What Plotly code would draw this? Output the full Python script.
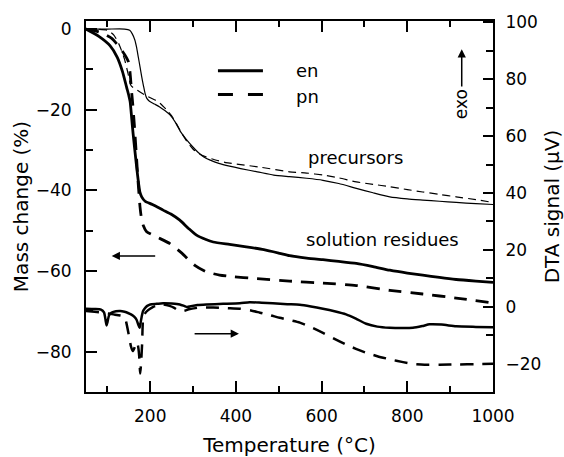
import plotly.graph_objects as go

# ---------------- data ----------------
# Mass change (%), precursor, en  (thin solid)
T_pre_en = [50, 100, 140, 152, 158, 164, 168, 172, 176, 180, 184, 188, 192, 198, 210, 222, 234, 246, 258, 271,
            285, 300, 312, 325, 340, 360, 385, 411, 450, 488, 525, 565, 603, 640, 681, 720, 759, 800, 836, 875,
            914, 960, 1000]
m_pre_en = [0, 0, 0, -0.3, -1.2, -2.7, -4.5, -6.9, -9.3, -11.8, -14, -16, -17.2, -17.9, -18.6, -19.3, -20.2,
            -21.3, -23, -25.5, -27.5, -29.3, -30.6, -31.7, -32.5, -33.3, -34, -34.6, -35.4, -36.2, -36.6, -37,
            -37.5, -38.3, -39.5, -40.6, -41.6, -42.1, -42.4, -42.7, -43, -43.3, -43.5]

# Mass change (%), precursor, pn  (thin dashed)
T_pre_pn = [50, 100, 115, 128, 140, 148, 155, 170, 190, 205, 215, 224, 238, 250, 260, 269, 285, 300, 315, 330,
            350, 376, 411, 460, 525, 565, 603, 640, 681, 720, 759, 800, 836, 875, 914, 960, 1000]
m_pre_pn = [0, -0.3, -1.5, -4, -7.5, -11, -14, -15.2, -16.5, -17.3, -17.8, -18.5, -20, -21.5, -23.2, -25,
            -27.8, -29.8, -31, -31.7, -32.4, -33.1, -33.6, -34.3, -35.4, -35.7, -36.2, -36.9, -37.9, -38.5,
            -39.1, -39.8, -40.4, -41, -41.6, -42.3, -43]

# Mass change (%), solution residue, en  (thick solid)
T_sol_en = [50, 80, 106, 123, 135, 145, 150, 153, 157, 160, 168, 173, 176, 180, 188, 205, 230, 250, 269, 290,
            308, 330, 347, 385, 424, 465, 502, 525, 565, 603, 640, 681, 720, 759, 800, 836, 875, 914, 960, 1000]
m_sol_en = [0, -1.8, -4.1, -7, -10.5, -14.5, -16.5, -18, -22.5, -26, -34, -38.5, -40.5, -41.6, -42.7, -43.5,
            -44.9, -46, -47.4, -49.5, -51.1, -52.2, -52.8, -53.4, -54, -54.7, -55.6, -56.2, -56.8, -57.2,
            -57.6, -58.1, -58.9, -59.8, -60.5, -61, -61.6, -62.1, -62.5, -62.8]

# Mass change (%), solution residue, pn  (thick dashed)
T_sol_pn = [50, 80, 110, 128, 140, 149, 153, 156, 159, 163, 168, 172, 176, 179, 184, 191, 214, 246, 273, 304,
            331, 362, 393, 440, 525, 603, 681, 759, 836, 914, 1000]
m_sol_pn = [0, -0.7, -2.3, -4.5, -6.3, -8.1, -11, -15, -18.5, -24, -32, -38.5, -44, -46.6, -48.8, -50.2,
            -51.5, -53.2, -55.5, -58.6, -60.2, -61, -61.4, -61.8, -62.5, -63, -63.6, -64.8, -65.7, -66.7, -67.9]

# DTA signal (uV), en  (thick solid)
T_dta_en = [50, 70, 85, 92, 96, 98, 100, 104, 110, 120, 130, 140, 148, 156, 163, 168, 172, 175, 177, 180, 183,
            187, 193, 200, 215, 230, 250, 269, 280, 286, 295, 310, 331, 370, 409, 432, 460, 486, 520, 549, 575,
            603, 630, 657, 680, 704, 730, 759, 790, 813, 835, 852, 880, 914, 960, 1000]
dta_en = [-0.7, -0.8, -1.0, -2.0, -5.0, -6.6, -5.5, -3.0, -2.1, -1.6, -1.5, -1.8, -2.2, -2.8, -3.6, -4.6, -6.3,
          -7.4, -6.0, -3.5, -1.6, -0.6, 0.3, 0.8, 1.0, 1.2, 1.1, 0.8, 0.2, -0.1, 0.2, 0.6, 0.8, 1.0, 1.2, 1.6,
          1.4, 1.2, 0.9, 0.7, 0.1, -0.7, -1.6, -2.7, -4.2, -6.0, -7.0, -7.4, -7.5, -7.4, -6.8, -6.2, -6.3, -6.9,
          -7.1, -7.2]

# DTA signal (uV), pn  (thick dashed)
T_dta_pn = [50, 70, 90, 114, 130, 140, 144, 150, 155, 159, 163, 167, 171, 174, 176.5, 178.5, 181, 183, 187,
            195, 205, 215, 230, 245, 256, 264, 272, 280, 290, 315, 347, 380, 409, 435, 456, 480, 502, 525, 549,
            575, 603, 630, 657, 680, 704, 730, 759, 790, 813, 840, 875, 920, 960, 1000]
dta_pn = [-1.5, -1.8, -2.1, -2.7, -3.1, -3.5, -5.5, -10, -14, -15.6, -14.5, -12.5, -13.5, -17, -23.5, -20,
          -13, -5, -2.5, -1.2, -0.2, 0.4, 0.8, 0.3, -0.4, -1.2, -1.6, -1.4, -0.9, -0.3, -0.3, -0.5, -0.7, -1.3,
          -2.1, -3.0, -3.9, -4.7, -5.6, -7.2, -9.2, -11.3, -13.3, -14.8, -16.2, -17.4, -18.5, -19.5, -20.1,
          -20.4, -20.4, -20.3, -20.2, -20.1]

x_ticks = [200, 400, 600, 800, 1000]
y_ticks = [0, -20, -40, -60, -80]
y2_ticks = [100, 80, 60, 40, 20, 0, -20]

FONT = "DejaVu Sans"
BLACK = "#000000"

fig = go.Figure()

def add(x, y, width, dash, yaxis, name):
    fig.add_trace(go.Scatter(
        x=x, y=y, mode="lines", name=name, yaxis=yaxis, showlegend=False,
        line=dict(color=BLACK, width=width, dash=dash, shape="spline", smoothing=0.6)))

add(T_pre_en, m_pre_en, 1.2, "solid", "y", "precursor en")
add(T_pre_pn, m_pre_pn, 1.2, "8px,5px", "y", "precursor pn")
add(T_sol_en, m_sol_en, 2.8, "solid", "y", "solution residue en")
add(T_sol_pn, m_sol_pn, 2.8, "13px,9px", "y", "solution residue pn")
add(T_dta_en, dta_en, 2.5, "solid", "y2", "DTA en")
add(T_dta_pn, dta_pn, 2.5, "13px,9px", "y2", "DTA pn")

# legend keys
fig.add_shape(type="line", xref="x", yref="y", x0=358, x1=463, y0=-10.35, y1=-10.35,
              line=dict(color=BLACK, width=3))
fig.add_shape(type="line", xref="x", yref="y", x0=358, x1=463, y0=-16.2, y1=-16.2,
              line=dict(color=BLACK, width=3, dash="15px,15px"))

annots = [
    dict(text="en", x=535, y=-10.35, xanchor="left"),
    dict(text="pn", x=535, y=-16.6, xanchor="left"),
    dict(text="precursors", x=678, y=-31.8, xanchor="center"),
    dict(text="solution residues", x=741, y=-52.2, xanchor="center"),
]
for a in annots:
    fig.add_annotation(xref="x", yref="y", showarrow=False, yanchor="middle",
                       font=dict(family=FONT, size=18, color=BLACK), **a)

fig.add_annotation(xref="x", yref="y", x=927, y=-18.7, text="exo", textangle=-90, showarrow=False,
                   font=dict(family=FONT, size=17, color=BLACK))

# arrows (shaft + head)
def arrow(x0, y0, x1, y1, yref):
    fig.add_annotation(xref="x", yref=yref, axref="x", ayref=yref, x=x1, y=y1, ax=x0, ay=y0,
                       text="", showarrow=True, arrowhead=2, arrowsize=1.1, arrowwidth=1.5,
                       arrowcolor=BLACK)

arrow(215, -56.25, 110, -56.25, "y")
arrow(300, -9.5, 407, -9.5, "y2")
arrow(927, -14.6, 927, -5.0, "y")

axis_common = dict(
    showline=True, linecolor=BLACK, linewidth=2, showgrid=False, zeroline=False,
    ticks="inside", tickcolor=BLACK, tickwidth=1.5, automargin=False,
    tickfont=dict(family=FONT, size=17, color=BLACK),
)

fig.update_layout(
    width=564, height=457,
    margin=dict(l=86, r=71, t=21, b=65),
    paper_bgcolor="white", plot_bgcolor="white",
    showlegend=False,
    xaxis=dict(**axis_common, range=[50, 1000], tickvals=x_ticks, ticklen=11, mirror="ticks",
               minor=dict(dtick=100, tick0=0, ticks="inside", ticklen=6, tickwidth=1.5, tickcolor=BLACK),
               title=dict(text="Temperature (°C)", font=dict(family=FONT, size=20, color=BLACK), standoff=14),
               ticklabelstandoff=8),
    yaxis=dict(**axis_common, range=[-90, 2], tickvals=y_ticks, ticklen=11,
               minor=dict(dtick=10, tick0=0, ticks="inside", ticklen=7, tickwidth=1.5, tickcolor=BLACK),
               title=dict(text="Mass change (%)", font=dict(family=FONT, size=20, color=BLACK), standoff=2),
               ticklabelstandoff=9),
    yaxis2=dict(**axis_common, overlaying="y", side="right", range=[-30, 100.5], tickvals=y2_ticks,
                ticklen=10,
                minor=dict(dtick=10, tick0=0, ticks="inside", ticklen=7, tickwidth=1.5, tickcolor=BLACK),
                title=dict(text="DTA signal (μV)", font=dict(family=FONT, size=20, color=BLACK), standoff=7),
                ticklabelstandoff=7),
)

fig.write_html("out.html")
